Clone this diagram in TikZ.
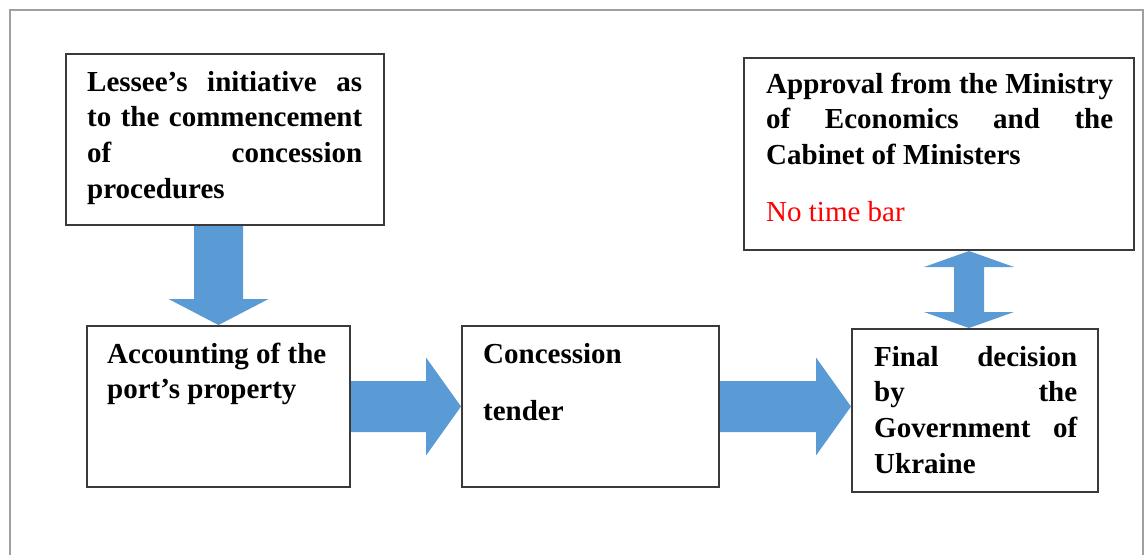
\documentclass[tikz,border=0pt]{standalone}
\usepackage{fontspec}
\setmainfont{Liberation Serif}
\usetikzlibrary{calc}
\definecolor{arrowblue}{HTML}{5B9BD5}
\definecolor{framegray}{HTML}{A0A0A0}
\definecolor{boxline}{HTML}{3A3A3A}
\definecolor{notered}{HTML}{FF0000}
\newcommand\jline[1]{\makebox[\linewidth][s]{#1}\par}
\newcommand\boxtext[2]{\parbox[t]{#1}{\fontsize{29}{35.7}\selectfont\bfseries\parskip=0pt\relax #2}}
\begin{document}
\begin{tikzpicture}[x=1pt,y=-1pt,
  boxnode/.style={draw=boxline, line width=2pt, fill=white, inner sep=0pt, anchor=north west},
  txt/.style={anchor=base west, inner sep=0pt, text=black},
  flow/.style={fill=arrowblue},
  framel/.style={draw=framegray, line width=1.5pt}]
\useasboundingbox (0,0) rectangle (1147,555);
\draw[framel] (10,555) -- (10,10) -- (1143,10) -- (1143,555);

% boxes
\node[boxnode, minimum width=318pt, minimum height=171pt] (lessee) at (65,53) {};
\node[boxnode, minimum width=263pt, minimum height=161pt] (acc) at (86,325) {};
\node[boxnode, minimum width=257pt, minimum height=161pt] (conc) at (461,325) {};
\node[boxnode, minimum width=246pt, minimum height=163pt] (final) at (851,328) {};
\node[boxnode, minimum width=390pt, minimum height=192pt] (approval) at (743,57) {};

% texts
\node[txt] (lesseetext) at ($(lessee.north west)+(22,38)$)
  {\boxtext{275pt}{\jline{Lessee’s initiative as}\jline{to the commencement}\jline{of concession}procedures}};
\node[txt] (acctext) at ($(acc.north west)+(21,38)$)
  {\boxtext{235pt}{Accounting of the\par port’s property}};
\node[txt] (conctext) at ($(conc.north west)+(22,38)$)
  {\boxtext{225pt}{Concession\par\vspace{21.3pt}tender}};
\node[txt] (finaltext) at ($(final.north west)+(23,38)$)
  {\boxtext{203pt}{\jline{Final decision}\jline{by the}\jline{Government of}Ukraine}};
\node[txt] (approvaltext) at ($(approval.north west)+(23,36)$)
  {\boxtext{347pt}{\jline{Approval from the Ministry}\jline{of Economics and the}Cabinet of Ministers\par\vspace{21.3pt}\textcolor{notered}{\mdseries No time bar}}};

% connectors
\coordinate (dS) at (acc.north |- lessee.south);
\coordinate (dT) at (acc.north);
\fill[flow] ($(dS)+(-24.5,0)$) -- ($(dS)+(24.5,0)$) -- ($(dT)+(24.5,-26)$) -- ($(dT)+(50,-26)$)
  -- (dT) -- ($(dT)+(-50,-26)$) -- ($(dT)+(-24.5,-26)$) -- cycle;

\coordinate (r1S) at (acc.east);
\coordinate (r1T) at (conc.west);
\fill[flow] ($(r1S)+(0,-25.5)$) -- ($(r1T)+(-35,-25.5)$) -- ($(r1T)+(-35,-49)$) -- (r1T)
  -- ($(r1T)+(-35,49)$) -- ($(r1T)+(-35,25.5)$) -- ($(r1S)+(0,25.5)$) -- cycle;

\coordinate (r2S) at (conc.east);
\coordinate (r2T) at (conc.east -| final.west);
\fill[flow] ($(r2S)+(0,-25.5)$) -- ($(r2T)+(-35,-25.5)$) -- ($(r2T)+(-35,-49)$) -- (r2T)
  -- ($(r2T)+(-35,49)$) -- ($(r2T)+(-35,25.5)$) -- ($(r2S)+(0,25.5)$) -- cycle;

\coordinate (uB) at ($(final.north)+(-6,0)$);
\coordinate (uT) at (uB |- approval.south);
\fill[flow] (uT) -- ($(uT)+(45,16)$) -- ($(uT)+(15,16)$) -- ($(uB)+(15,-16)$) -- ($(uB)+(45,-16)$)
  -- (uB) -- ($(uB)+(-45,-16)$) -- ($(uB)+(-15,-16)$) -- ($(uT)+(-15,16)$) -- ($(uT)+(-45,16)$) -- cycle;
\end{tikzpicture}
\end{document}
